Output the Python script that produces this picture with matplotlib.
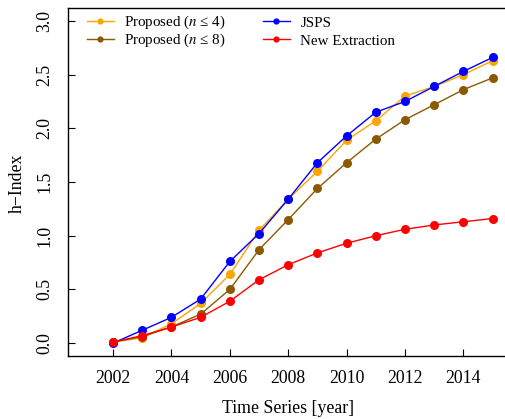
import matplotlib
matplotlib.use("Agg")
import matplotlib.pyplot as plt
from matplotlib.lines import Line2D

plt.rcParams['font.family'] = ['Liberation Serif', 'DejaVu Serif']
plt.rcParams['mathtext.fontset'] = 'stix'

years = list(range(2002, 2016))
proposed_n4 = [0.01, 0.05, 0.18, 0.37, 0.64, 1.05, 1.34, 1.60, 1.89, 2.07, 2.30, 2.39, 2.50, 2.63]
proposed_n8 = [0.01, 0.06, 0.15, 0.27, 0.50, 0.87, 1.15, 1.44, 1.68, 1.90, 2.08, 2.22, 2.36, 2.47]
jsps = [0.00, 0.12, 0.24, 0.41, 0.76, 1.02, 1.34, 1.68, 1.93, 2.15, 2.25, 2.39, 2.53, 2.66]
new_extraction = [0.01, 0.07, 0.15, 0.24, 0.39, 0.59, 0.73, 0.84, 0.93, 1.00, 1.06, 1.10, 1.13, 1.16]

labels = ["Proposed ($n$ \u2264 4)", "Proposed ($n$ \u2264 8)", "JSPS", "New Extraction"]
colors = ["#FFA500", "#8B5A00", "#0000FF", "#FF0000"]
series = [proposed_n4, proposed_n8, jsps, new_extraction]

fig = plt.figure(figsize=(5.06, 4.19), dpi=100)
ax = fig.add_axes([67.5 / 506, 63 / 419, (509 - 67.5) / 506, 348 / 419])

for vals, col in zip(series, colors):
    ax.plot(years, vals, color=col, lw=1.0, marker='o', markersize=6.5,
            markeredgewidth=0, clip_on=False)

ax.set_xlim(2000.44, 2015.56)
ax.set_ylim(-0.12, 3.12)
ax.set_xticks(range(2002, 2015, 2))
ax.set_yticks([0.0, 0.5, 1.0, 1.5, 2.0, 2.5, 3.0])
ax.set_yticklabels(["0.0", "0.5", "1.0", "1.5", "2.0", "2.5", "3.0"], rotation=90, va='center')
ax.tick_params(direction='in', length=5, width=0.8, labelsize=12.8, pad=10)
ax.spines['right'].set_visible(False)
for s in ['left', 'top', 'bottom']:
    ax.spines[s].set_linewidth(1.0)

fig.text(288 / 506, 1 - 408 / 419, "Time Series [year]", ha='center', va='center', fontsize=12.8)
fig.text(17 / 506, 1 - 183 / 419, "h\u2212Index", ha='center', va='center', rotation=90, fontsize=12.8)

handles = [Line2D([], [], color=c, lw=1.0, marker='o', markersize=4.5, markeredgewidth=0)
           for c in colors]
leg_kw = dict(frameon=False, loc='upper left', fontsize=10.8, handlelength=1.8,
              handletextpad=0.7, borderaxespad=0.0)
# two single-column legends so both columns share the same row pitch
leg1 = ax.legend(handles[:2], labels[:2], bbox_to_anchor=(0.03, 1.0),
                 labelspacing=0.02, **leg_kw)
ax.add_artist(leg1)
ax.legend(handles[2:], labels[2:], bbox_to_anchor=(0.429, 0.994),
          labelspacing=0.3, **leg_kw)

fig.savefig("out.png", dpi=100)
